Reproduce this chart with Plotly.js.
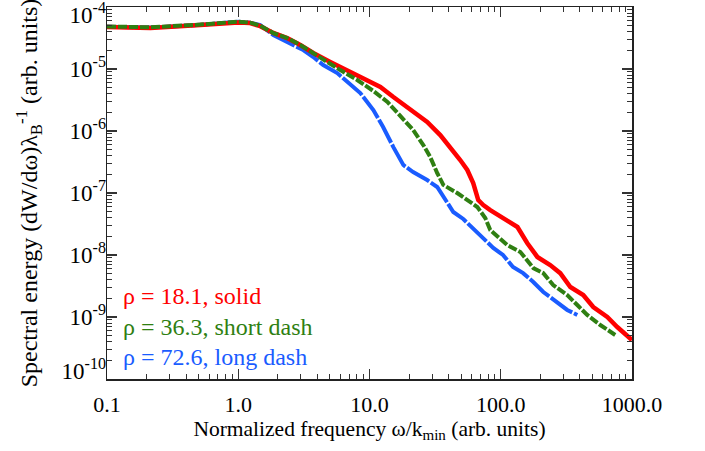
<!DOCTYPE html>
<html>
<head>
<meta charset="utf-8">
<script src="https://cdn.plot.ly/plotly-3.0.1.min.js"></script>
<style>html,body{margin:0;padding:0;background:#fff;}#chart{width:705px;height:451px;}</style>
</head>
<body>
<div id="chart"></div>
<script>
// ---- data ----
const redFreq = [0.1, 0.214, 0.513, 1.0, 1.23, 1.47, 1.85, 2.36, 2.97, 3.73, 5.02, 6.77, 8.96, 12.1, 15.2, 20.4, 27.5, 34.6, 41.2, 49.1, 55.6, 61.7, 67.4, 73.6, 83.2, 104, 134, 159, 190, 238, 284, 339, 425, 507, 648, 772, 1000];
const redEnergy = [4.76e-5, 4.58e-5, 5.13e-5, 5.6e-5, 5.5e-5, 4.9e-5, 3.81e-5, 3.16e-5, 2.44e-5, 1.81e-5, 1.30e-5, 9.6e-6, 7.2e-6, 5.13e-6, 3.53e-6, 2.18e-6, 1.40e-6, 8.6e-7, 5.5e-7, 3.4e-7, 2.35e-7, 1.45e-7, 7.7e-8, 6.4e-8, 5.3e-8, 3.95e-8, 2.83e-8, 1.56e-8, 9.3e-9, 6.9e-9, 5.1e-9, 3.05e-9, 2.26e-9, 1.45e-9, 1.0e-9, 6.9e-10, 4.26e-10];

const greenFreq = [0.1, 0.214, 0.513, 1.0, 1.23, 1.47, 1.85, 2.36, 2.97, 4.22, 5.99, 8.07, 10.7, 13.7, 17.1, 21.5, 25.7, 29.0, 32.8, 36.5, 46.6, 58.6, 66.3, 76.2, 83.2, 112, 141, 177, 211, 251, 321, 383, 456, 573, 745];
const greenEnergy = [4.85e-5, 4.7e-5, 5.2e-5, 5.8e-5, 5.6e-5, 5.0e-5, 3.8e-5, 3.16e-5, 2.44e-5, 1.50e-5, 9.6e-6, 6.65e-6, 4.42e-6, 2.94e-6, 1.81e-6, 1.04e-6, 5.94e-7, 3.81e-7, 2.10e-7, 1.35e-7, 1.0e-7, 7.16e-8, 5.94e-8, 3.95e-8, 2.53e-8, 1.45e-8, 1.12e-8, 6.16e-9, 5.1e-9, 3.28e-9, 2.26e-9, 1.56e-9, 1.08e-9, 7.43e-10, 5.13e-10];

const blueFreq = [0.1, 0.214, 0.513, 1.0, 1.23, 1.47, 1.85, 2.49, 3.13, 3.73, 4.44, 5.68, 7.13, 8.51, 10.7, 12.7, 15.2, 18.1, 21.5, 27.5, 32.8, 36.5, 43.5, 51.8, 58.6, 73.6, 87.7, 104, 124, 148, 177, 211, 269, 321, 383];
const blueEnergy = [4.8e-5, 4.65e-5, 5.15e-5, 5.8e-5, 5.6e-5, 5.1e-5, 3.53e-5, 2.62e-5, 2.02e-5, 1.56e-5, 1.16e-5, 8.61e-6, 5.52e-6, 4.10e-6, 2.18e-6, 1.16e-6, 5.5e-7, 2.83e-7, 2.18e-7, 1.62e-7, 1.25e-7, 8.61e-8, 4.94e-8, 3.81e-8, 2.94e-8, 1.88e-8, 1.30e-8, 1.0e-8, 6.40e-9, 5.1e-9, 3.67e-9, 2.53e-9, 1.75e-9, 1.30e-9, 1.08e-9];

const seriesLabels = ["ρ = 18.1, solid", "ρ = 36.3, short dash", "ρ = 72.6, long dash"];
const xTickVals = [0.1, 1, 10, 100, 1000];
const xTickText = ["0.1", "1.0", "10.0", "100.0", "1000.0"];
const yTickVals = [1e-10, 1e-9, 1e-8, 1e-7, 1e-6, 1e-5, 1e-4];
const yTickText = ["10<sup>-10</sup>", "10<sup>-9</sup>", "10<sup>-8</sup>", "10<sup>-7</sup>", "10<sup>-6</sup>", "10<sup>-5</sup>", "10<sup>-4</sup>"];

const RED = "#ff0000", GREEN = "#2f7f12", BLUE = "#1a5cff";

function minorVals(lo, hi) {
  const v = [];
  for (let e = lo; e < hi; e++) for (let m = 2; m <= 9; m++) v.push(m * Math.pow(10, e));
  return v;
}
// as in the original, the end labels of the y axis sit nudged inward from their ticks
const yLabelShiftPx = [-8, 0, 0, 0, 0, 0, 7.5];
const yLabelPos = yTickVals.map((v, i) => v * Math.pow(10, -yLabelShiftPx[i] / 62));

const traces = [
  {x: blueFreq, y: blueEnergy, mode: "lines", line: {color: BLUE, width: 4, dash: "26px,2px"}, hoverinfo: "skip"},
  {x: redFreq, y: redEnergy, mode: "lines", line: {color: RED, width: 4.5}, hoverinfo: "skip"},
  {x: greenFreq, y: greenEnergy, mode: "lines", line: {color: GREEN, width: 4, dash: "9px,2px"}, hoverinfo: "skip"},
  {x: [], y: [], yaxis: "y2", mode: "lines", hoverinfo: "skip"}
];

const serif = "'Liberation Serif', 'Times New Roman', Times, serif";
const annY = [0.223, 0.140, 0.059];
const annColors = [RED, GREEN, BLUE];

const layout = {
  width: 705, height: 451,
  margin: {l: 107, r: 73, t: 7, b: 72, pad: 0},
  paper_bgcolor: "#fff", plot_bgcolor: "#fff",
  showlegend: false,
  font: {family: serif, size: 21, color: "#000"},
  xaxis: {
    type: "log", range: [-1, 3],
    tickmode: "array", tickvals: xTickVals, ticktext: xTickText,
    ticks: "inside", ticklen: 10, tickwidth: 1.2, tickcolor: "#333",
    mirror: "ticks", showline: true, linecolor: "#222", linewidth: 1.5,
    showgrid: false, zeroline: false, ticklabelstandoff: 5,
    tickfont: {family: serif, size: 22, color: "#000"},
    minor: {tickmode: "array", tickvals: minorVals(-1, 3), ticks: "inside", ticklen: 5, tickwidth: 1, tickcolor: "#333", showgrid: false},
    title: {text: "Normalized frequency ω/k<sub>min</sub> (arb. units)", font: {family: serif, size: 21.5, color: "#000"}, standoff: 2}
  },
  yaxis: {
    type: "log", range: [-10, -4],
    tickmode: "array", tickvals: yTickVals, showticklabels: false,
    ticks: "inside", ticklen: 10, tickwidth: 1.2, tickcolor: "#333",
    mirror: "ticks", showline: true, linecolor: "#222", linewidth: 1.5,
    showgrid: false, zeroline: false,
    minor: {tickmode: "array", tickvals: minorVals(-10, -4), ticks: "inside", ticklen: 5, tickwidth: 1, tickcolor: "#333", showgrid: false}
  },
  yaxis2: {
    type: "log", range: [-10, -4], overlaying: "y", side: "left", anchor: "x",
    tickmode: "array", tickvals: yLabelPos, ticktext: yTickText,
    ticks: "", showline: false, showgrid: false, zeroline: false,
    ticklabeloverflow: "allow",
    tickfont: {family: serif, size: 23, color: "#000"},
    title: {text: "Spectral energy (dW/dω)λ<sub>B</sub><sup>-1</sup> (arb. units)", font: {family: serif, size: 24, color: "#000"}, standoff: 17}
  },
  annotations: seriesLabels.map((t, i) => ({
    text: t, xref: "paper", yref: "paper", x: 0.027, y: annY[i],
    xanchor: "left", yanchor: "middle", showarrow: false,
    font: {family: serif, size: 24, color: annColors[i]}
  }))
};

Plotly.newPlot("chart", traces, layout, {displayModeBar: false, staticPlot: true});
</script>
</body>
</html>
